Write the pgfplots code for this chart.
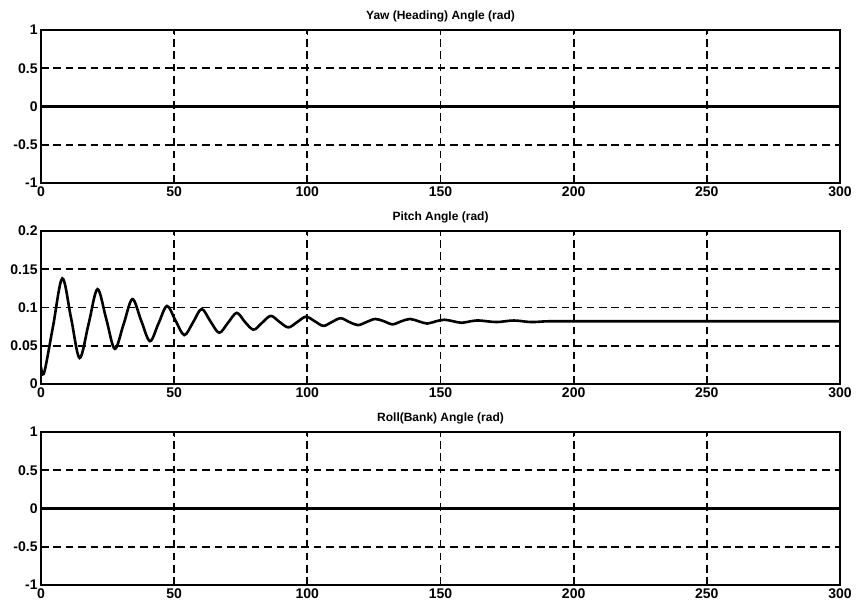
\documentclass[border=0pt]{standalone}
\usepackage{pgfplots}
\pgfplotsset{compat=1.18}
\usepackage{fontspec}
\setmainfont{Liberation Sans}

% Pitch response: peaks, troughs and mid-crossings of the damped oscillation
\pgfplotstableread{
t y
0 0.022
1.2 0.015
4.5 0.075
8.0 0.138
11.3 0.086
14.5 0.034
17.9 0.079
21.2 0.124
24.5 0.085
27.7 0.046
31.0 0.078
34.3 0.111
37.6 0.083
40.9 0.056
44.1 0.079
47.3 0.102
50.5 0.083
53.8 0.064
57.0 0.080
60.3 0.098
63.6 0.082
66.9 0.067
70.2 0.080
73.5 0.093
76.6 0.081
79.8 0.071
83.0 0.080
86.3 0.089
89.6 0.081
92.9 0.074
96.2 0.081
99.5 0.088
102.8 0.082
106.0 0.076
109.2 0.081
112.5 0.086
115.8 0.081
119.0 0.077
122.2 0.081
125.5 0.085
128.8 0.082
132.0 0.078
135.3 0.082
138.5 0.085
141.8 0.082
145.0 0.079
148.3 0.082
151.5 0.084
154.8 0.082
158.0 0.080
161.3 0.082
164.5 0.083
171.0 0.081
177.5 0.083
184.0 0.081
190.5 0.082
200.0 0.082
250.0 0.082
300.0 0.082
}\pitchdata

\pgfplotstableread{
t y
0 0
300 0
}\zerodata

\pgfplotsset{
  angleplot/.style={
    scale only axis,
    width=399.5pt, height=76.5pt,
    anchor=south west,
    xmin=0, xmax=300,
    xtick={0,50,...,300},
    grid=major,
    major grid style={black, line width=0.9pt, dash pattern=on 3.8pt off 2.4pt},
    axis line style={black, line width=0.6pt},
    tick style={black, line width=0.4pt},
    tick align=inside,
    major tick length=2.5pt,
    ticklabel style={font=\bfseries\fontsize{7}{8}\selectfont, inner sep=1.5pt},
    title style={font=\bfseries\fontsize{6}{7}\selectfont, yshift=-5.5pt},
    /pgf/number format/assume math mode=true,
    scaled y ticks=false,
  },
}

\begin{document}
\begin{tikzpicture}
% Yaw
\begin{axis}[angleplot, at={(0pt,201pt)},
  title={Yaw (Heading) Angle (rad)},
  ymin=-1, ymax=1, ytick={-1,-0.5,0,0.5,1},
  yticklabels={-1,-0.5,0,0.5,1}]
  \addplot[black, line width=1.4pt] table[x=t, y=y] {\zerodata};
\end{axis}
% Pitch
\begin{axis}[angleplot, at={(0pt,100.5pt)},
  title={Pitch Angle (rad)},
  ymin=0, ymax=0.2, ytick={0,0.05,0.1,0.15,0.2},
  yticklabels={0,0.05,0.1,0.15,0.2}]
  \addplot[black, line width=1.3pt, smooth, tension=0.55] table[x=t, y=y] {\pitchdata};
\end{axis}
% Roll
\begin{axis}[angleplot, at={(0pt,0pt)},
  title={Roll(Bank) Angle (rad)},
  ymin=-1, ymax=1, ytick={-1,-0.5,0,0.5,1},
  yticklabels={-1,-0.5,0,0.5,1}]
  \addplot[black, line width=1.4pt] table[x=t, y=y] {\zerodata};
\end{axis}
\pgfresetboundingbox
\path[use as bounding box] (-20.5pt,-8.5pt) rectangle (407.5pt,292.5pt);
\end{tikzpicture}
\end{document}
